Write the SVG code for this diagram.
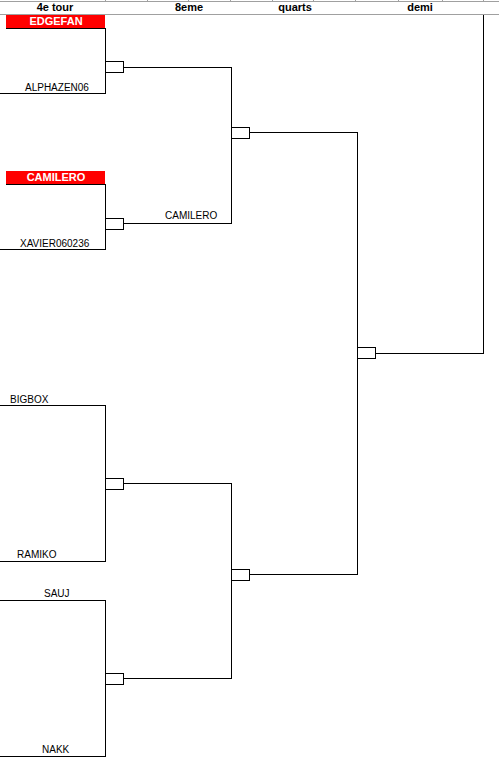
<svg xmlns="http://www.w3.org/2000/svg" width="499" height="759" viewBox="0 0 499 759">
<style>
.hdr{font-family:"Liberation Sans",Arial,sans-serif;font-size:11px;font-weight:bold;fill:#000;text-anchor:middle}
.nm{font-family:"Liberation Sans",Arial,sans-serif;font-size:10px;fill:#000}
.win{font-family:"Liberation Sans",Arial,sans-serif;font-size:11px;font-weight:bold;fill:#fff;text-anchor:middle}
.ln{fill:none;stroke:#000;stroke-width:1}
.bx{fill:#fff;stroke:#000;stroke-width:1}
.grid{stroke:#a0a0a0;stroke-width:1;fill:none}
.red{fill:#ff0000}
</style>
<rect width="499" height="759" fill="#fff"/>
<g id="header" shape-rendering="crispEdges">
<path class="grid" d="M0 1.5H499M0 14.5H499M105.5 0V2M147.5 0V2M188.5 0V2M230.5 0V2M272.5 0V2M313.5 0V2M355.5 0V2M398.5 0V2M442.5 0V2M483.5 0V2"/>
<text class="hdr" x="55" y="11">4e tour</text>
<text class="hdr" x="189" y="11">8eme</text>
<text class="hdr" x="295" y="11">quarts</text>
<text class="hdr" x="420" y="11">demi</text>
</g>
<g id="connectors" shape-rendering="crispEdges">
<path class="ln" d="M6 28.5H105.5V93.5H0"/>
<path class="ln" d="M6 184.5H105.5V249.5H0"/>
<path class="ln" d="M0 405.5H105.5V561.5H0"/>
<path class="ln" d="M0 600.5H105.5V756.5H0"/>
<path class="ln" d="M123.5 67.5H231.5V223.5H123.5"/>
<path class="ln" d="M123.5 483.5H231.5V678.5H123.5"/>
<path class="ln" d="M249.5 132.5H357.5V574.5H249.5"/>
<path class="ln" d="M375.5 353.5H483.5V15"/>
</g>
<g id="m1">
<rect class="red" x="6" y="15" width="99" height="13"/>
<text class="win" x="56" y="25">EDGEFAN</text>
<text class="nm" x="25" y="91">ALPHAZEN06</text>
</g>
<g id="m2">
<rect class="red" x="6" y="171" width="99" height="13"/>
<text class="win" x="56" y="181">CAMILERO</text>
<text class="nm" x="20" y="247">XAVIER060236</text>
</g>
<g id="m3">
<text class="nm" x="10" y="403">BIGBOX</text>
<text class="nm" x="17" y="558">RAMIKO</text>
</g>
<g id="m4">
<text class="nm" x="44" y="597">SAUJ</text>
<text class="nm" x="42" y="753">NAKK</text>
</g>
<g id="r2a">
<text class="nm" x="165" y="219">CAMILERO</text>
</g>
<g id="boxes" shape-rendering="crispEdges">
<rect class="bx" x="105.5" y="61.5" width="18" height="11"/>
<rect class="bx" x="105.5" y="218.5" width="18" height="11"/>
<rect class="bx" x="105.5" y="478.5" width="18" height="11"/>
<rect class="bx" x="105.5" y="673.5" width="18" height="11"/>
<rect class="bx" x="231.5" y="127.5" width="18" height="11"/>
<rect class="bx" x="231.5" y="569.5" width="18" height="11"/>
<rect class="bx" x="357.5" y="347.5" width="18" height="11"/>
</g>
</svg>
